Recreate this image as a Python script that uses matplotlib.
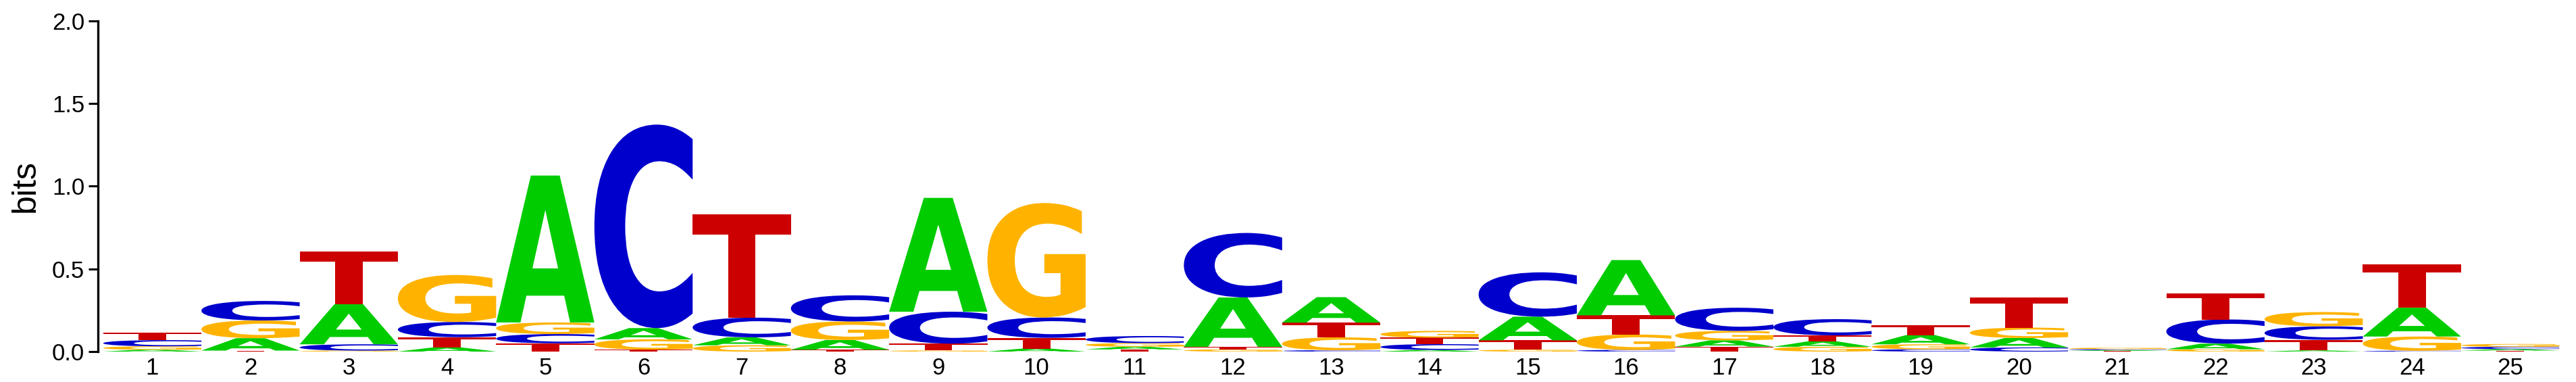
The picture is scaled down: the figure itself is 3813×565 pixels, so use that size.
import matplotlib
matplotlib.use("Agg")
import matplotlib.pyplot as plt
from matplotlib.textpath import TextPath
from matplotlib.patches import PathPatch
from matplotlib.font_manager import FontProperties
from matplotlib.transforms import Affine2D

# ---- data (bits per letter at each position) ----
positions = list(range(1, 26))
A_bits = [0.011, 0.075, 0.242, 0.025, 0.888, 0.068, 0.048, 0.059, 0.688, 0.018,
          0.016, 0.298, 0.154, 0.010, 0.143, 0.334, 0.038, 0.033, 0.056, 0.057,
          0.005, 0.034, 0.007, 0.174, 0.009]
C_bits = [0.037, 0.118, 0.038, 0.092, 0.056, 1.230, 0.119, 0.158, 0.193, 0.123,
          0.043, 0.390, 0.008, 0.035, 0.268, 0.010, 0.140, 0.098, 0.014, 0.025,
          0.006, 0.146, 0.082, 0.005, 0.014]
G_bits = [0.021, 0.107, 0.006, 0.284, 0.070, 0.062, 0.038, 0.112, 0.007, 0.692,
          0.022, 0.013, 0.078, 0.041, 0.011, 0.093, 0.057, 0.029, 0.030, 0.063,
          0.008, 0.014, 0.086, 0.086, 0.017]
T_bits = [0.044, 0.006, 0.319, 0.062, 0.050, 0.012, 0.623, 0.011, 0.041, 0.065,
          0.013, 0.016, 0.089, 0.039, 0.057, 0.116, 0.030, 0.036, 0.060, 0.180,
          0.004, 0.158, 0.064, 0.264, 0.006]
letters = ["A", "C", "G", "T"]
letter_colors = {"A": "#00CC00", "C": "#0000CC", "G": "#FFB300", "T": "#CC0000"}
y_ticks = [0.0, 0.5, 1.0, 1.5, 2.0]
y_label = "bits"

plt.rcParams["font.family"] = ["Liberation Sans", "DejaVu Sans"]

W, H = 3813, 565
fig = plt.figure(figsize=(W / 100, H / 100), dpi=100)
ax_left, ax_right = 145 / W, 3796 / W
ax_bottom, ax_top = (H - 520) / H, (H - 30.6) / H
ax = fig.add_axes([ax_left, ax_bottom, ax_right - ax_left, ax_top - ax_bottom])

glyph_font = FontProperties(family="DejaVu Sans", weight="bold")
glyph_cache = {}


def glyph_path(ch):
    if ch not in glyph_cache:
        tp = TextPath((0, 0), ch, size=1, prop=glyph_font)
        glyph_cache[ch] = (tp, tp.get_extents())
    return glyph_cache[ch]


def draw_letter(ch, xc, y0, h, width=1.0):
    if h <= 0:
        return
    tp, ext = glyph_path(ch)
    tr = (Affine2D()
          .translate(-ext.x0, -ext.y0)
          .scale(width / ext.width, h / ext.height)
          .translate(xc - width / 2, y0))
    ax.add_patch(PathPatch(tr.transform_path(tp), facecolor=letter_colors[ch],
                           edgecolor="none", lw=0))


series = {"A": A_bits, "C": C_bits, "G": G_bits, "T": T_bits}
for i, pos in enumerate(positions):
    vals = sorted(((series[l][i], l) for l in letters), key=lambda t: t[0])
    y = 0.0
    for v, l in vals:
        draw_letter(l, pos, y, v)
        y += v

ax.set_xlim(0.447, 25.553)
ax.set_ylim(0, 2.0)
for s in ["top", "right", "bottom"]:
    ax.spines[s].set_visible(False)
ax.spines["left"].set_linewidth(2.4)
ax.spines["left"].set_capstyle("projecting")

ax.set_yticks(y_ticks)
ax.set_yticklabels([f"{t:.1f}" for t in y_ticks])
ax.set_xticks(positions)
ax.set_xticklabels([str(p) for p in positions])
ax.tick_params(axis="y", length=10, width=2.2, pad=4.3, labelsize=25)
ax.tick_params(axis="x", length=0, pad=6, labelsize=25)

fig.text(38 / W, 1 - 275 / H, y_label, rotation=90, ha="center", va="center",
         fontsize=36)

fig.savefig("out.png", dpi=100)
